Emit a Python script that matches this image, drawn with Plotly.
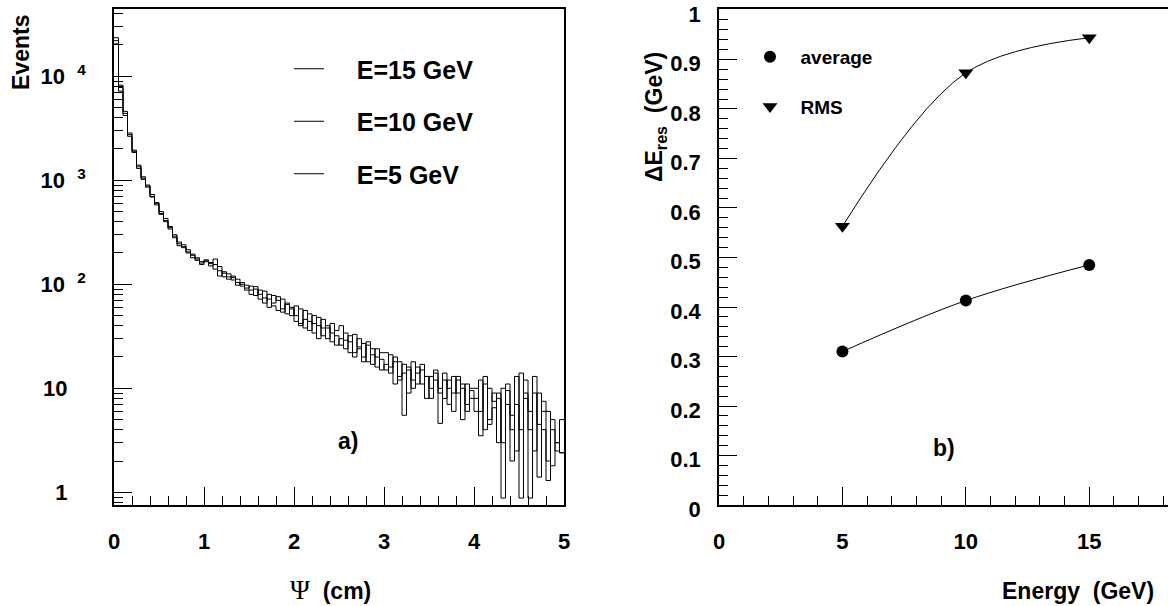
import numpy as np
import plotly.graph_objects as go

# ---------------- data ----------------
PSI_MIN, PSI_MAX, N_BINS = 0.0, 5.0, 100

hist_e15 = [23500, 8200, 4600, 2850, 1950, 1400, 1080, 880, 730, 610, 500, 430, 350, 300, 255, 230, 215, 195, 180, 165,
            172, 158, 175, 135, 128, 118, 120, 104, 100, 98,
            88, 95, 72, 86, 60, 78, 70, 58, 64, 50,
            62, 42, 56, 36, 50, 30, 46, 38, 28, 36, 40, 24, 32, 22, 30, 18, 28, 24, 16, 22,
            22, 14, 20, 12, 17, 9, 18, 11, 15, 13, 8, 15, 10, 12, 7, 13, 9, 11, 6, 10,
            10, 6, 11, 5, 9, 3, 10, 7, 4, 13, 4, 9, 6, 2.5, 9, 4, 2, 5, 3, 2.4]
hist_e10 = [22000, 7800, 4400, 2750, 1900, 1350, 1050, 900, 700, 600, 480, 410, 360, 290, 245, 240, 205, 190, 175, 160,
            168, 162, 140, 148, 118, 126, 110, 112, 96, 92,
            96, 78, 88, 66, 80, 62, 56, 72, 52, 60,
            44, 58, 38, 52, 42, 48, 32, 40, 34, 26, 30, 34, 22, 33, 25, 20, 26, 17, 24, 19,
            15, 21, 11, 18, 5.5, 16, 12, 14, 17, 8, 13, 12, 4.6, 14, 10, 9, 12, 5, 11, 8,
            6, 12, 4, 10, 7.5, 8, 3, 11, 5.5, 2.5, 14, 8, 0.88, 9, 4.5, 6, 1.3, 4, 2.5, 2.4]
hist_e5 = [20500, 7200, 4200, 2650, 1850, 1300, 1020, 860, 690, 580, 470, 400, 340, 280, 235, 225, 200, 180, 170, 155,
           165, 150, 155, 120, 132, 112, 116, 98, 104, 88,
           80, 90, 80, 74, 72, 66, 76, 54, 66, 58,
           50, 40, 46, 44, 34, 40, 38, 30, 42, 32, 26, 29, 28, 20, 24, 27, 18, 21, 20, 15,
           17, 16, 18, 13, 14, 15, 10, 16, 11, 13, 10, 14, 9, 8, 12, 6, 13, 10, 7, 9.5,
           8, 3.5, 13, 4.5, 6.5, 9, 0.88, 9.5, 2, 7, 0.88, 12, 4, 13, 1.4, 7.5, 6, 1.8, 3, 5]
hist_labels = ["E=15 GeV", "E=10 GeV", "E=5 GeV"]

energy = [5, 10, 15]
res_average = [0.310, 0.413, 0.485]
res_rms = [0.563, 0.873, 0.944]

log_ticks = [1, 10, 100, 1000, 10000]
log_ticktext = ["1\u00a0\u00a0\u00a0", "10\u00a0\u00a0\u00a0", "10\u00a0\u00a0<sup>2</sup>",
                "10\u00a0\u00a0<sup>3</sup>", "10\u00a0\u00a0<sup>4</sup>"]

# ---------------- figure ----------------
W, H = 1168, 606
FONT = "Liberation Sans, Arial, Helvetica, sans-serif"


def px(x):
    return x / W


def py(y):
    return 1 - y / H


edges = np.linspace(PSI_MIN, PSI_MAX, N_BINS + 1)

fig = go.Figure()
for vals, lab in zip([hist_e15, hist_e10, hist_e5], hist_labels):
    yv = list(vals) + [vals[-1]]
    fig.add_trace(go.Scatter(
        x=edges, y=yv, mode="lines", line=dict(color="black", width=1, shape="hv"),
        name="\u00a0\u00a0\u00a0\u00a0" + lab, legendgroup=lab, legend="legend",
        xaxis="x", yaxis="y"))

# right panel curves
fig.add_trace(go.Scatter(x=energy, y=res_rms, mode="lines",
                         line=dict(color="black", width=1, shape="spline", smoothing=1.0),
                         showlegend=False, xaxis="x2", yaxis="y2"))
fig.add_trace(go.Scatter(x=energy, y=res_average, mode="lines",
                         line=dict(color="black", width=1, shape="spline", smoothing=1.0),
                         showlegend=False, xaxis="x2", yaxis="y2"))
fig.add_trace(go.Scatter(x=energy, y=res_average, mode="markers",
                         marker=dict(symbol="circle", size=12, color="black"),
                         name="\u00a0\u00a0average", legendgroup="avg", legend="legend2",
                         xaxis="x2", yaxis="y2"))
fig.add_trace(go.Scatter(x=energy, y=res_rms, mode="markers",
                         marker=dict(symbol="triangle-down", size=13, color="black"),
                         name="\u00a0\u00a0RMS", legendgroup="rms", legend="legend2",
                         xaxis="x2", yaxis="y2"))

tickfont = dict(family=FONT, size=22, color="black", weight="bold")
common = dict(showline=True, linecolor="black", linewidth=1.5, showgrid=False, zeroline=False,
              ticks="inside", ticklen=18, tickwidth=1, tickcolor="black", tickfont=tickfont,
              automargin=False, ticklabeloverflow="allow")

y_dom = [py(505), py(9)]

minor_log = [0.8, 0.9] + [k * 10 ** d for d in range(0, 5) for k in range(2, 10) if k * 10 ** d < 45000]

fig.update_layout(
    width=W, height=H, autosize=False,
    margin=dict(l=0, r=0, t=0, b=0, autoexpand=False),
    paper_bgcolor="white", plot_bgcolor="white",
    font=dict(family=FONT, color="black"),
    xaxis=dict(domain=[px(114), px(564)], range=[0, 5], anchor="y", mirror=True,
               tickvals=[0, 1, 2, 3, 4, 5], ticklabelstandoff=16,
               minor=dict(ticks="inside", ticklen=9, dtick=0.2, tickcolor="black", tickwidth=1, showgrid=False),
               **common),
    yaxis=dict(domain=y_dom, type="log", range=[np.log10(0.755), 4.647], anchor="x", mirror=True,
               tickvals=log_ticks, ticktext=log_ticktext, ticklabelstandoff=22,
               minor=dict(ticks="inside", ticklen=9, tickvals=minor_log, tickcolor="black", tickwidth=1, showgrid=False),
               **common),
    xaxis2=dict(domain=[px(719), 1.0], range=[0, 18.19], anchor="y2", mirror=True,
                tickvals=[0, 5, 10, 15], ticklabelstandoff=16,
                minor=dict(ticks="inside", ticklen=9, dtick=1, tickcolor="black", tickwidth=1, showgrid=False),
                **common),
    yaxis2=dict(domain=y_dom, range=[0, 1.002], anchor="x2", mirror=False,
                tickvals=[round(0.1 * i, 1) for i in range(11)], ticklabelstandoff=12, ticklabelshift=4,
                minor=dict(ticks="inside", ticklen=9, dtick=0.02, tickcolor="black", tickwidth=1, showgrid=False),
                **common),
    legend=dict(x=px(289), y=py(46), xanchor="left", yanchor="top",
                font=dict(family=FONT, size=25, color="black", weight="bold"),
                bgcolor="rgba(0,0,0,0)", tracegroupgap=17, traceorder="grouped"),
    legend2=dict(x=px(750), y=py(38), xanchor="left", yanchor="top",
                 font=dict(family=FONT, size=19, color="black", weight="bold"),
                 bgcolor="rgba(0,0,0,0)", tracegroupgap=22, traceorder="grouped"),
)

afont = dict(family=FONT, size=23, color="black", weight="bold")
annos = [
    dict(text="Events", x=px(21), y=py(53), textangle=-90),
    dict(text="<span style='font-family:Liberation Serif;font-weight:normal;font-size:27px'>\u03a8</span>\u00a0\u00a0(cm)",
         x=px(330), y=py(590)),
    dict(text="Energy\u00a0\u00a0(GeV)", x=px(1156), y=py(591), xanchor="right"),
    dict(text="\u0394E<sub>res</sub>\u00a0\u00a0(GeV)", x=px(656), y=py(117), textangle=-90),
    dict(text="a)", x=px(348), y=py(441)),
    dict(text="b)", x=px(944), y=py(448)),
]
for a in annos:
    a.setdefault("xanchor", "center")
    fig.add_annotation(xref="paper", yref="paper", yanchor="middle", showarrow=False,
                       font=afont, **a)

fig.write_html("out.html")
